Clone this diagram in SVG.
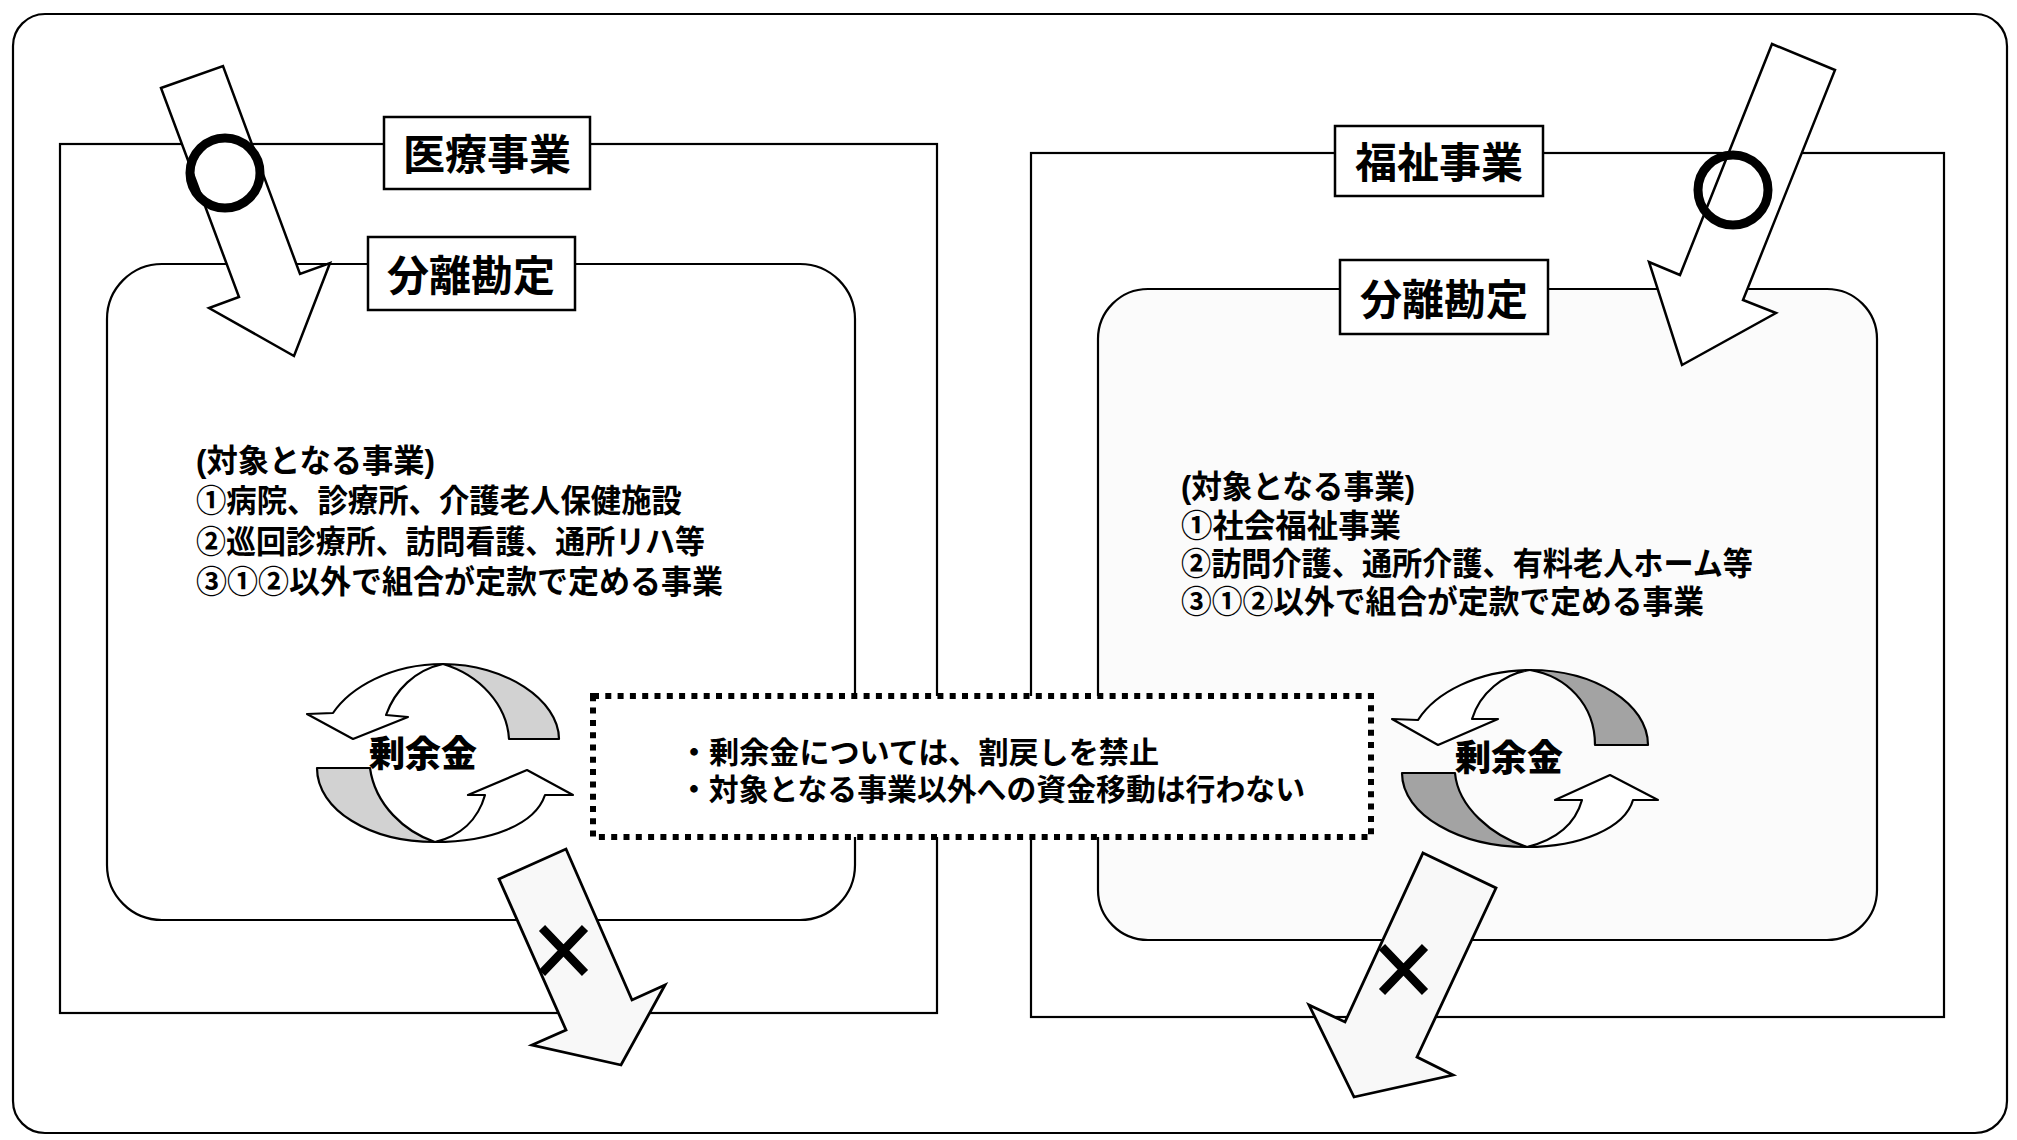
<svg xmlns="http://www.w3.org/2000/svg" width="2017" height="1140" viewBox="0 0 2017 1140">
<style>
.ln{fill:none;stroke:#000;stroke-width:2.2}
.box{fill:#fff;stroke:#000;stroke-width:2.5}
.inner{stroke:#000;stroke-width:2.2}
.blk{fill:#fff;stroke:#000;stroke-width:2.5;stroke-linejoin:miter}
.xarr{fill:#f8f8f8;stroke:#000;stroke-width:2.8}
.ring{fill:none;stroke:#000;stroke-width:9}
.xm{stroke:#000;stroke-width:8.5;stroke-linecap:butt}
.cyc{stroke:#000;stroke-width:2.2;stroke-linejoin:round}
.lab{font-family:"Liberation Sans","Noto Sans CJK JP",sans-serif;font-size:42px;font-weight:700;text-anchor:middle}
.body{font-family:"Liberation Sans","Noto Sans CJK JP",sans-serif;font-size:32px;font-weight:700}
.note{font-family:"Liberation Sans","Noto Sans CJK JP",sans-serif;font-size:30px;font-weight:700}
.sur{font-family:"Liberation Sans","Noto Sans CJK JP",sans-serif;font-size:36px;font-weight:900;text-anchor:middle}
</style>
<rect width="2017" height="1140" fill="#fff"/>
<g id="frame">
<rect x="13" y="14" width="1994" height="1119" rx="32" ry="32" class="ln"/>
</g>
<g id="medical">
<rect x="60" y="144" width="877" height="869" class="ln"/>
</g>
<g id="welfare">
<rect x="1031" y="153" width="913" height="864" class="ln"/>
</g>
<g id="medical-separate">
<rect x="107" y="264" width="748" height="656" rx="55" ry="55" class="inner" fill="#fff"/>
</g>
<g id="welfare-separate">
<rect x="1098" y="289" width="779" height="651" rx="50" ry="50" class="inner" fill="#fbfbfb"/>
</g>
<g id="medical-label">
<rect x="384" y="117" width="206" height="72" class="box"/>
<text x="487" y="170" class="lab">医療事業</text>
</g>
<g id="medical-separate-label">
<rect x="368" y="237" width="207" height="73" class="box"/>
<text x="471" y="291" class="lab">分離勘定</text>
</g>
<g id="welfare-label">
<rect x="1335" y="126" width="208" height="70" class="box"/>
<text x="1439" y="178" class="lab">福祉事業</text>
</g>
<g id="welfare-separate-label">
<rect x="1340" y="260" width="208" height="74" class="box"/>
<text x="1444" y="315" class="lab">分離勘定</text>
</g>
<g id="medical-text" class="body">
<text x="196" y="472" textLength="239" lengthAdjust="spacingAndGlyphs">(対象となる事業)</text>
<text x="196" y="512" textLength="486" lengthAdjust="spacingAndGlyphs">①病院、診療所、介護老人保健施設</text>
<text x="196" y="553" textLength="509" lengthAdjust="spacingAndGlyphs">②巡回診療所、訪問看護、通所リハ等</text>
<text x="196" y="593" textLength="527" lengthAdjust="spacingAndGlyphs">③①②以外で組合が定款で定める事業</text>
</g>
<g id="welfare-text" class="body">
<text x="1181" y="498" textLength="234" lengthAdjust="spacingAndGlyphs">(対象となる事業)</text>
<text x="1181" y="537" textLength="220" lengthAdjust="spacingAndGlyphs">①社会福祉事業</text>
<text x="1181" y="575" textLength="572" lengthAdjust="spacingAndGlyphs">②訪問介護、通所介護、有料老人ホーム等</text>
<text x="1181" y="613" textLength="523" lengthAdjust="spacingAndGlyphs">③①②以外で組合が定款で定める事業</text>
</g>
<g id="medical-cycle">
<path class="cyc" fill="#d2d2d2" d="M443,664 C505,664 559,700 559,739 L509,739 C507,705 480,675 443,664 Z"/>
<path class="cyc" fill="#fff" d="M443,664 C390,664 350,688 333,713 L307,714 L353,739 L408,717 L386,715 C395,690 415,670 443,664 Z"/>
<path class="cyc" fill="#d2d2d2" d="M317,768 C317,810 370,842 435,842 C405,832 375,805 370,768 Z"/>
<path class="cyc" fill="#fff" d="M435,842 C490,842 535,825 545,795 L573,795 L527,770 L468,795 L485,795 C478,820 460,836 435,842 Z"/>
<text x="423" y="767" class="sur">剰余金</text>
</g>
<g id="welfare-cycle">
<path class="cyc" fill="#a3a3a3" d="M1530,670 C1595,670 1648,704 1648,745 L1595,745 C1595,704 1566,676 1530,670 Z"/>
<path class="cyc" fill="#fff" d="M1530,670 C1478,670 1435,693 1418,720 L1392,719 L1438,745 L1498,719 L1472,719 C1480,693 1503,674 1530,670 Z"/>
<path class="cyc" fill="#a3a3a3" d="M1402,773 C1402,815 1460,847 1527,847 C1492,836 1458,807 1455,773 Z"/>
<path class="cyc" fill="#fff" d="M1527,847 C1580,847 1625,828 1633,800 L1658,800 L1610,775 L1555,800 L1582,800 C1575,825 1555,840 1527,847 Z"/>
<text x="1509" y="771" class="sur">剰余金</text>
</g>
<g id="note">
<rect x="593" y="696" width="778" height="141" fill="#fff" stroke="#000" stroke-width="6" stroke-dasharray="6 6.3"/>
<text x="679" y="763" class="note" textLength="480" lengthAdjust="spacingAndGlyphs">・剰余金については、割戻しを禁止</text>
<text x="679" y="800" class="note" textLength="626" lengthAdjust="spacingAndGlyphs">・対象となる事業以外への資金移動は行わない</text>
</g>
<g id="connectors">
<polygon class="blk" points="161,88 223,66 300,274 330,263 294,356 209,308 239,297"/>
<circle cx="225" cy="173" r="35" class="ring"/>
<polygon class="blk" points="1772,44 1835,70 1743,300 1776,313 1682,365 1649,262 1680,275"/>
<circle cx="1733" cy="190" r="35" class="ring"/>
<polygon class="xarr" points="499,879 566,849 632,1000 665,985 621,1065 532,1045 566,1030"/>
<path class="xm" d="M542,928 L585,973 M585,928 L542,973"/>
<polygon class="xarr" points="1423,853 1496,888 1417,1057 1453,1075 1354,1097 1309,1005 1345,1022"/>
<path class="xm" d="M1382,947 L1425,992 M1425,947 L1382,992"/>
</g>
</svg>
